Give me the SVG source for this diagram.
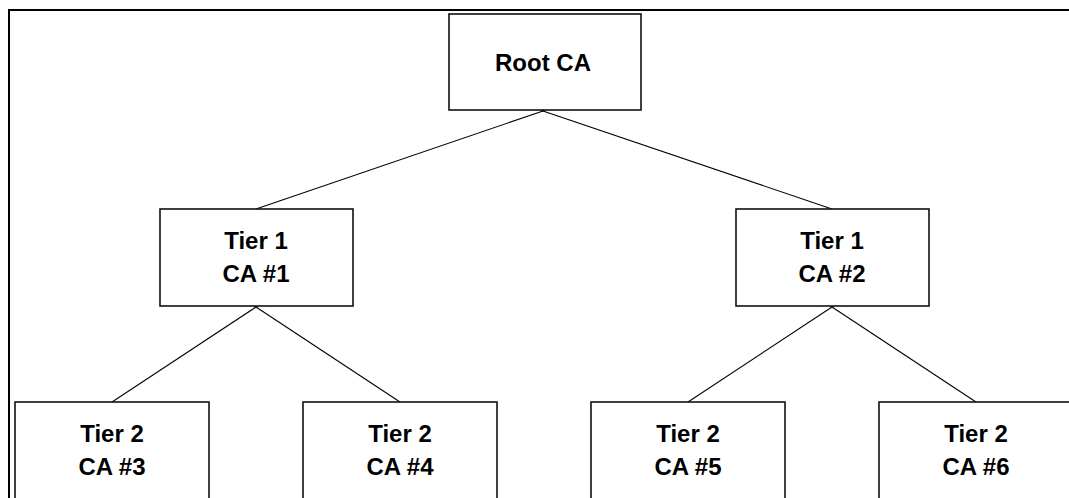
<svg xmlns="http://www.w3.org/2000/svg" width="1069" height="498" viewBox="0 0 1069 498">
  <style>
    .box { fill: #ffffff; stroke: #111111; stroke-width: 1.6; }
    .label { font-family: "Liberation Sans", Arial, sans-serif; font-weight: bold; font-size: 24px; fill: #000000; text-anchor: middle; }
    .link { stroke: #000000; stroke-width: 1.1; fill: none; }
    .frame { stroke: #000000; stroke-width: 2; fill: none; }
    .dot { fill: #000000; }
  </style>
  <rect width="1069" height="498" fill="#ffffff"/>

  <!-- outer frame (top and left edges, the rest runs off the page) -->
  <path class="frame" d="M9,510 V10 H1080"/>

  <!-- tree connectors -->
  <g id="connectors">
    <line class="link" x1="543" y1="111" x2="256" y2="209"/>
    <line class="link" x1="543" y1="111" x2="832" y2="209"/>
    <line class="link" x1="256" y1="307" x2="112" y2="402"/>
    <line class="link" x1="256" y1="307" x2="400" y2="402"/>
    <line class="link" x1="832" y1="307" x2="688" y2="402"/>
    <line class="link" x1="832" y1="307" x2="976" y2="402"/>
    <rect class="dot" x="541.5" y="109.5" width="3" height="2"/>
    <rect class="dot" x="254.5" y="305.5" width="3" height="2"/>
    <rect class="dot" x="830.5" y="305.5" width="3" height="2"/>
  </g>

  <g id="root-ca">
    <rect class="box" x="449" y="14" width="192" height="96"/>
    <text class="label" x="543" y="71">Root CA</text>
  </g>

  <g id="tier1-ca1">
    <rect class="box" x="160" y="209" width="193" height="97"/>
    <text class="label" x="256" y="249">Tier 1</text>
    <text class="label" x="256" y="282">CA #1</text>
  </g>

  <g id="tier1-ca2">
    <rect class="box" x="736" y="209" width="193" height="97"/>
    <text class="label" x="832" y="249">Tier 1</text>
    <text class="label" x="832" y="282">CA #2</text>
  </g>

  <g id="tier2-ca3">
    <rect class="box" x="15" y="402" width="194" height="110"/>
    <text class="label" x="112" y="442">Tier 2</text>
    <text class="label" x="112" y="475">CA #3</text>
  </g>

  <g id="tier2-ca4">
    <rect class="box" x="303" y="402" width="194" height="110"/>
    <text class="label" x="400" y="442">Tier 2</text>
    <text class="label" x="400" y="475">CA #4</text>
  </g>

  <g id="tier2-ca5">
    <rect class="box" x="591" y="402" width="194" height="110"/>
    <text class="label" x="688" y="442">Tier 2</text>
    <text class="label" x="688" y="475">CA #5</text>
  </g>

  <g id="tier2-ca6">
    <rect class="box" x="879" y="402" width="194" height="110"/>
    <text class="label" x="976" y="442">Tier 2</text>
    <text class="label" x="976" y="475">CA #6</text>
  </g>
</svg>
